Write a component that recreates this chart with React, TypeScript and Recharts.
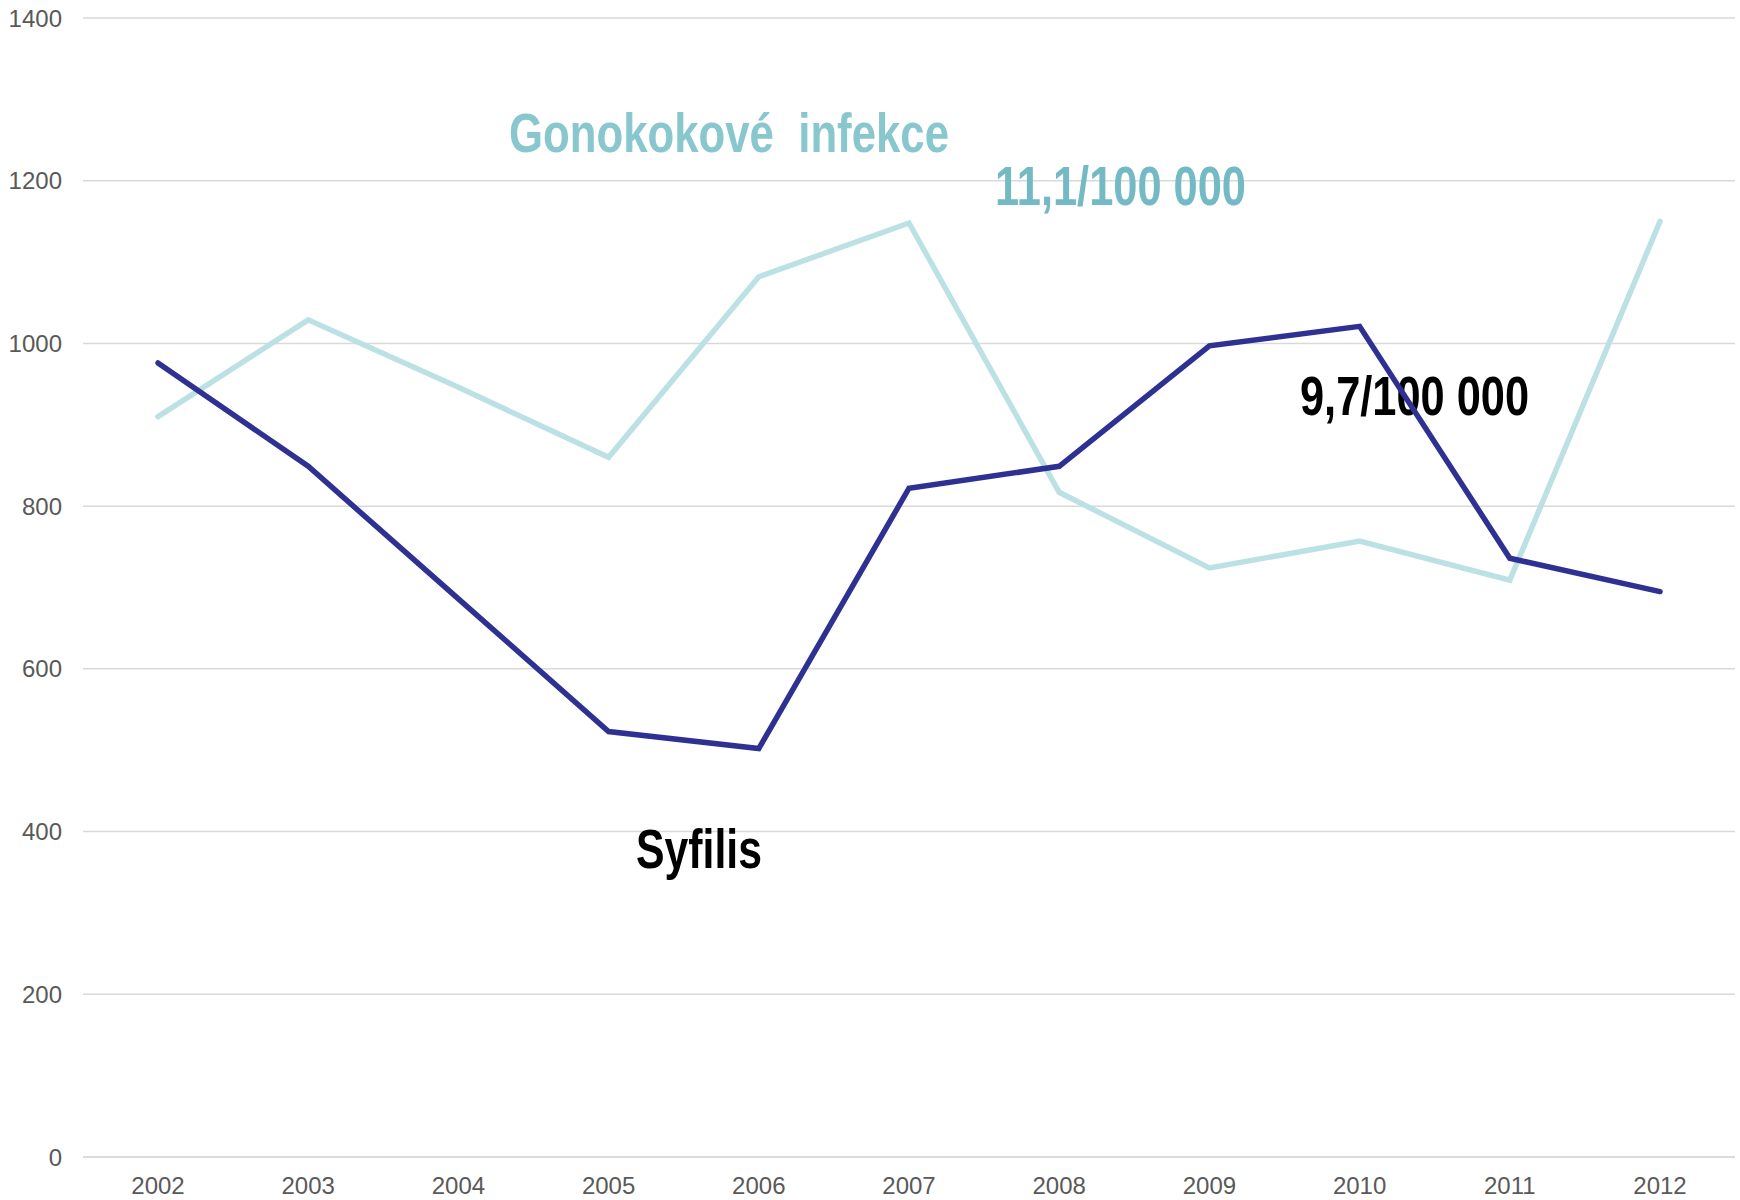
import React from "react";
import { LineChart, Line, XAxis, YAxis, CartesianGrid } from "recharts";

const years = ["2002", "2003", "2004", "2005", "2006", "2007", "2008", "2009", "2010", "2011", "2012"];
const gonokokove = [910, 1029, 946, 860, 1082, 1148, 817, 724, 757, 709, 1150];
const syfilis = [976, 849, 686, 523, 502, 822, 849, 997, 1021, 736, 695];
const yTicks = [0, 200, 400, 600, 800, 1000, 1200, 1400];

const chartData = years.map((year, i) => ({
  year,
  gonokokove: gonokokove[i],
  syfilis: syfilis[i],
}));

const W = 1740;
const H = 1200;
// Arial Narrow look: regular Arial-like bold, squeezed to the measured widths
const labelFont = "'Liberation Sans', Arial, sans-serif";
const tickStyle = { fontSize: 24, fill: "#595959", fontFamily: "'Liberation Sans', Arial, sans-serif" };

function Labels({ items }: { items: { text: string; x: number; y: number; w: number; color: string }[] }) {
  return (
    <svg width={W} height={H} style={{ position: "absolute", left: 0, top: 0, pointerEvents: "none" }}>
      {items.map((l) => (
        <text
          key={l.text}
          x={l.x}
          y={l.y}
          fontSize={56}
          fontWeight="bold"
          fontFamily={labelFont}
          fill={l.color}
          textLength={l.w}
          lengthAdjust="spacingAndGlyphs"
          style={{ whiteSpace: "pre" }}
        >
          {l.text}
        </text>
      ))}
    </svg>
  );
}

export default function App() {
  return (
    <div style={{ position: "absolute", left: 0, top: 0, width: W, height: H, background: "#fff" }}>
      <Labels items={[{ text: "9,7/100 000", x: 1300, y: 415, w: 229, color: "#000" }]} />
      <div style={{ position: "absolute", left: 0, top: 0 }}>
        <LineChart width={W} height={H} data={chartData} margin={{ top: 18, right: 5, bottom: 3, left: 0 }}>
          <CartesianGrid vertical={false} stroke="#d9d9d9" strokeWidth={1.5} />
          <XAxis
            dataKey="year"
            height={40}
            padding={{ left: 75, right: 75 }}
            tick={tickStyle}
            tickLine={false}
            tickSize={6}
            tickMargin={14}
            axisLine={{ stroke: "#d9d9d9", strokeWidth: 1.5 }}
          />
          <YAxis
            width={83}
            domain={[0, 1400]}
            ticks={yTicks}
            tick={tickStyle}
            tickLine={false}
            axisLine={false}
            tickSize={6}
            tickMargin={15}
          />
          <Line
            type="linear"
            dataKey="gonokokove"
            stroke="#bce1e5"
            strokeWidth={5.5}
            dot={false}
            activeDot={false}
            strokeLinecap="round"
            isAnimationActive={false}
          />
          <Line
            type="linear"
            dataKey="syfilis"
            stroke="#2e3192"
            strokeWidth={5.5}
            dot={false}
            activeDot={false}
            strokeLinecap="round"
            isAnimationActive={false}
          />
        </LineChart>
      </div>
      <Labels
        items={[
          { text: "Gonokokové  infekce", x: 509, y: 152, w: 440, color: "#89c7cf" },
          { text: "11,1/100 000", x: 995, y: 205, w: 251, color: "#74bac4" },
          { text: "Syfilis", x: 636, y: 868, w: 126, color: "#000" },
        ]}
      />
    </div>
  );
}
